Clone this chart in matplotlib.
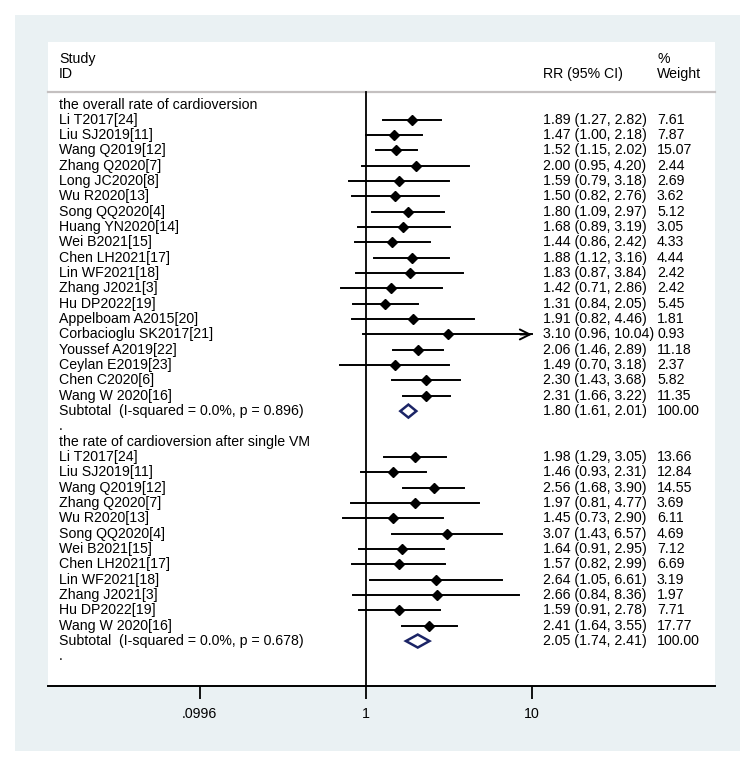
import matplotlib as mpl
import matplotlib.pyplot as plt
import matplotlib.transforms as mtransforms
from matplotlib.patches import Rectangle, Polygon
import numpy as np

plt.rcParams['font.family'] = ['Liberation Sans', 'DejaVu Sans']
plt.rcParams['font.size'] = 10.2

# section 1: the overall rate of cardioversion
studies1 = ["Li T2017[24]", "Liu SJ2019[11]", "Wang Q2019[12]", "Zhang Q2020[7]",
            "Long JC2020[8]", "Wu R2020[13]", "Song QQ2020[4]", "Huang YN2020[14]",
            "Wei B2021[15]", "Chen LH2021[17]", "Lin WF2021[18]", "Zhang J2021[3]",
            "Hu DP2022[19]", "Appelboam A2015[20]", "Corbacioglu SK2017[21]",
            "Youssef A2019[22]", "Ceylan E2019[23]", "Chen C2020[6]", "Wang W 2020[16]"]
rr1 = [1.89, 1.47, 1.52, 2.00, 1.59, 1.50, 1.80, 1.68, 1.44, 1.88, 1.83, 1.42, 1.31,
       1.91, 3.10, 2.06, 1.49, 2.30, 2.31]
lo1 = [1.27, 1.00, 1.15, 0.95, 0.79, 0.82, 1.09, 0.89, 0.86, 1.12, 0.87, 0.71, 0.84,
       0.82, 0.96, 1.46, 0.70, 1.43, 1.66]
hi1 = [2.82, 2.18, 2.02, 4.20, 3.18, 2.76, 2.97, 3.19, 2.42, 3.16, 3.84, 2.86, 2.05,
       4.46, 10.04, 2.89, 3.18, 3.68, 3.22]
wt1 = [7.61, 7.87, 15.07, 2.44, 2.69, 3.62, 5.12, 3.05, 4.33, 4.44, 2.42, 2.42, 5.45,
       1.81, 0.93, 11.18, 2.37, 5.82, 11.35]
sub1 = (1.80, 1.61, 2.01)
sub1_label = "Subtotal  (I-squared = 0.0%, p = 0.896)"

# section 2: the rate of cardioversion after single VM
studies2 = ["Li T2017[24]", "Liu SJ2019[11]", "Wang Q2019[12]", "Zhang Q2020[7]",
            "Wu R2020[13]", "Song QQ2020[4]", "Wei B2021[15]", "Chen LH2021[17]",
            "Lin WF2021[18]", "Zhang J2021[3]", "Hu DP2022[19]", "Wang W 2020[16]"]
rr2 = [1.98, 1.46, 2.56, 1.97, 1.45, 3.07, 1.64, 1.57, 2.64, 2.66, 1.59, 2.41]
lo2 = [1.29, 0.93, 1.68, 0.81, 0.73, 1.43, 0.91, 0.82, 1.05, 0.84, 0.91, 1.64]
hi2 = [3.05, 2.31, 3.90, 4.77, 2.90, 6.57, 2.95, 2.99, 6.61, 8.36, 2.78, 3.55]
wt2 = [13.66, 12.84, 14.55, 3.69, 6.11, 4.69, 7.12, 6.69, 3.19, 1.97, 7.71, 17.77]
sub2 = (2.05, 1.74, 2.41)
sub2_label = "Subtotal  (I-squared = 0.0%, p = 0.678)"

sections = [("the overall rate of cardioversion", studies1, rr1, lo1, hi1, wt1, sub1, sub1_label),
            ("the rate of cardioversion after single VM", studies2, rr2, lo2, hi2, wt2, sub2, sub2_label)]

xticks = [0.0996, 1, 10]
xticklabels = [".0996", "1", "10"]
xclip = 10

W, H = 755, 766
fig = plt.figure(figsize=(W / 100, H / 100), dpi=100)
fig.patch.set_facecolor('white')

# stata-like graph region behind everything
bg = fig.add_axes([0, 0, 1, 1], zorder=-5)
bg.set_xlim(0, W)
bg.set_ylim(H, 0)
bg.axis('off')
bg.add_patch(Rectangle((15, 15), 725, 736, facecolor='#eaf1f3', edgecolor='none'))

# plot region in pixel-like coordinates: x log, y rows from top
px_l, px_r, py_t, py_b = 48, 715, 42, 686
ax = fig.add_axes([px_l / W, 1 - py_b / H, (px_r - px_l) / W, (py_b - py_t) / H], zorder=1)
ax.set_facecolor('white')
ax.set_xscale('log')
x1_px, dec_px = 366, 166
ax.set_xlim(10 ** ((px_l - x1_px) / dec_px), 10 ** ((px_r - x1_px) / dec_px))
ax.set_ylim(py_b, py_t)
for s in ['top', 'left', 'right']:
    ax.spines[s].set_visible(False)
ax.spines['bottom'].set_linewidth(1.4)
ax.set_yticks([])
ax.set_xticks(xticks)
ax.set_xticklabels(xticklabels)
ax.xaxis.set_minor_locator(mpl.ticker.NullLocator())
ax.tick_params(axis='x', direction='out', length=9, width=1.3, pad=6, labelsize=10.2)

tr = mtransforms.blended_transform_factory(ax.transAxes, ax.transData)
def fx(px):
    return (px - px_l) / (px_r - px_l)

x_lab, x_ci, x_wt = fx(59), fx(543), fx(657)

# header
ax.text(x_lab, 59, "Study", transform=tr, va='center')
ax.text(x_lab, 74, "ID", transform=tr, va='center')
ax.text(x_ci, 74, "RR (95% CI)", transform=tr, va='center')
ax.text(x_wt, 59, "%", transform=tr, va='center')
ax.text(x_wt, 74, "Weight", transform=tr, va='center')
ax.plot([0, 1], [92, 92], transform=tr, color='#c4c0c0', lw=1.6, clip_on=False)

y0, dy = 104.5, 15.33
row = 0
for title, names, rr, lo, hi, wt, sub, sublabel in sections:
    ax.text(x_lab, y0 + row * dy, title, transform=tr, va='center')
    row += 1
    for i in range(len(names)):
        y = y0 + row * dy
        ax.text(x_lab, y, names[i], transform=tr, va='center')
        ax.text(x_ci, y, f"{rr[i]:.2f} ({lo[i]:.2f}, {hi[i]:.2f})", transform=tr, va='center')
        ax.text(x_wt, y, f"{wt[i]:.2f}", transform=tr, va='center')
        if hi[i] > xclip:
            ax.plot([lo[i], xclip], [y, y], color='black', lw=1.4)
            ax.annotate('', xy=(xclip, y), xytext=(xclip * 0.85, y),
                        arrowprops=dict(arrowstyle='->', color='black', lw=1.4,
                                        mutation_scale=18, shrinkA=0, shrinkB=0))
        else:
            ax.plot([lo[i], hi[i]], [y, y], color='black', lw=1.4)
        ax.plot(rr[i], y, marker='D', ms=5.5, color='black')
        row += 1
    y = y0 + row * dy
    ax.text(x_lab, y, sublabel, transform=tr, va='center')
    ax.text(x_ci, y, f"{sub[0]:.2f} ({sub[1]:.2f}, {sub[2]:.2f})", transform=tr, va='center')
    ax.text(x_wt, y, "100.00", transform=tr, va='center')
    ax.add_patch(Polygon([[sub[1], y], [sub[0], y - 6.5], [sub[2], y], [sub[0], y + 6.5]],
                         closed=True, facecolor='none', edgecolor='#1b2466', lw=1.8))
    row += 1
    ax.text(x_lab, y0 + row * dy, ".", transform=tr, va='center')
    row += 1

# line of no effect
ax.plot([1, 1], [92, py_b], color='black', lw=1.3)

fig.savefig('out.png', dpi=100)
